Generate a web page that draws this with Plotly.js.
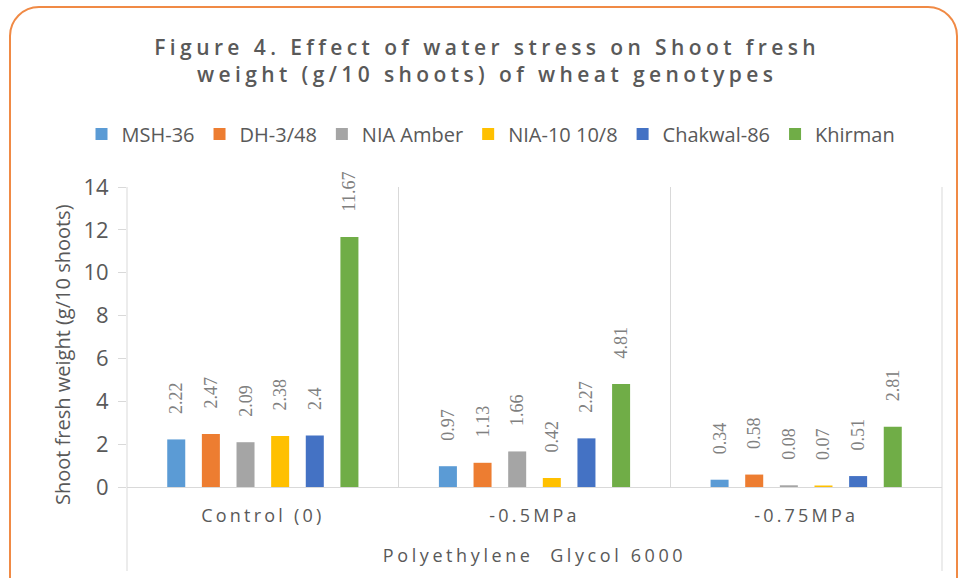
<!DOCTYPE html>
<html>
<head>
<meta charset="utf-8">
<script src="https://cdn.plot.ly/plotly-3.0.1.min.js"></script>
<style>
  html, body { margin: 0; padding: 0; background: #ffffff; }
  #frame {
    position: absolute; left: 9px; top: 6px; width: 949px; height: 620px;
    border: 2px solid #F08A45; border-radius: 30px; box-sizing: border-box;
  }
  #chart { position: absolute; left: 0; top: 0; width: 959px; height: 578px; }
  #chart .gtitle { letter-spacing: 4.4px; }
  #chart .xtick text { letter-spacing: 3.2px; }
  #chart .g-xtitle text { letter-spacing: 3.6px; }
</style>
</head>
<body>
<div id="frame"></div>
<div id="chart"></div>
<script>
const categories = ["Control (0)", "-0.5MPa", "-0.75MPa"];
const genotypes = ["MSH-36", "DH-3/48", "NIA Amber", "NIA-10 10/8", "Chakwal-86", "Khirman"];
const msh36 = [2.22, 0.97, 0.34];
const dh348 = [2.47, 1.13, 0.58];
const niaAmber = [2.09, 1.66, 0.08];
const nia10 = [2.38, 0.42, 0.07];
const chakwal86 = [2.4, 2.27, 0.51];
const khirman = [11.67, 4.81, 2.81];
const seriesValues = [msh36, dh348, niaAmber, nia10, chakwal86, khirman];
const colors = ["#5B9BD5", "#ED7D31", "#A5A5A5", "#FFC000", "#4472C4", "#70AD47"];

const traces = genotypes.map((name, i) => ({
  type: "bar",
  name: name,
  x: categories,
  y: seriesValues[i],
  marker: { color: colors[i], line: { width: 0 } },
  text: seriesValues[i].map(v => "\u00a0\u00a0\u00a0\u00a0\u00a0" + String(v)),
  textposition: "outside",
  textangle: -90,
  constraintext: "none",
  cliponaxis: false,
  textfont: { family: "Liberation Serif, DejaVu Serif, serif", size: 18, color: "#808080" },
  hoverinfo: "x+y+name"
}));

const fontSans = "Open Sans, Liberation Sans, sans-serif";

const layout = {
  width: 959, height: 578,
  paper_bgcolor: "rgba(0,0,0,0)",
  plot_bgcolor: "rgba(0,0,0,0)",
  margin: { l: 127, r: 17, t: 187, b: 91, pad: 0 },
  barmode: "group",
  bargap: 0.235,
  bargroupgap: 0.48,
  title: {
    text: "Figure 4. Effect of water stress on Shoot fresh<br>weight (g/10 shoots) of wheat genotypes",
    font: { family: fontSans, size: 21, color: "#595959", weight: 600 },
    x: 0.508, xref: "container", xanchor: "center",
    y: 0.905, yref: "container", yanchor: "middle"
  },
  legend: {
    orientation: "h",
    x: 0.512, xref: "container", xanchor: "center",
    y: 0.768, yref: "container", yanchor: "middle",
    font: { family: fontSans, size: 20, color: "#595959" },
    itemwidth: 30,
    traceorder: "normal"
  },
  xaxis: {
    type: "category",
    tickson: "boundaries",
    showgrid: true,
    gridcolor: "#D9D9D9",
    gridwidth: 1,
    showline: true,
    linecolor: "#D9D9D9",
    ticks: "",
    tickfont: { family: fontSans, size: 18, color: "#595959" },
    ticklabelstandoff: 12,
    title: {
      text: "Polyethylene  Glycol 6000",
      font: { family: fontSans, size: 18, color: "#595959" },
      standoff: 23
    },
    zeroline: false
  },
  yaxis: {
    range: [0, 14],
    dtick: 2,
    showgrid: false,
    zeroline: false,
    showline: false,
    ticks: "outside",
    ticklen: 8,
    tickcolor: "#D9D9D9",
    ticklabelstandoff: 5,
    tickfont: { family: fontSans, size: 22, color: "#595959" }
  },
  annotations: [
    {
      text: "Shoot fresh weight (g/10 shoots)",
      xref: "paper", yref: "paper",
      x: 0, y: 0.44, xanchor: "center", yanchor: "middle",
      xshift: -65, textangle: -90, showarrow: false,
      font: { family: fontSans, size: 20, color: "#595959" }
    }
  ],
  shapes: [
    { type: "line", xref: "paper", yref: "paper", x0: 0, x1: 0, y0: -0.28, y1: 1, line: { color: "#D9D9D9", width: 1 } },
    { type: "line", xref: "paper", yref: "paper", x0: 1, x1: 1, y0: -0.28, y1: 1, line: { color: "#D9D9D9", width: 1 } }
  ],
  showlegend: true
};

Plotly.newPlot("chart", traces, layout, { displayModeBar: false, staticPlot: true });
</script>
</body>
</html>
